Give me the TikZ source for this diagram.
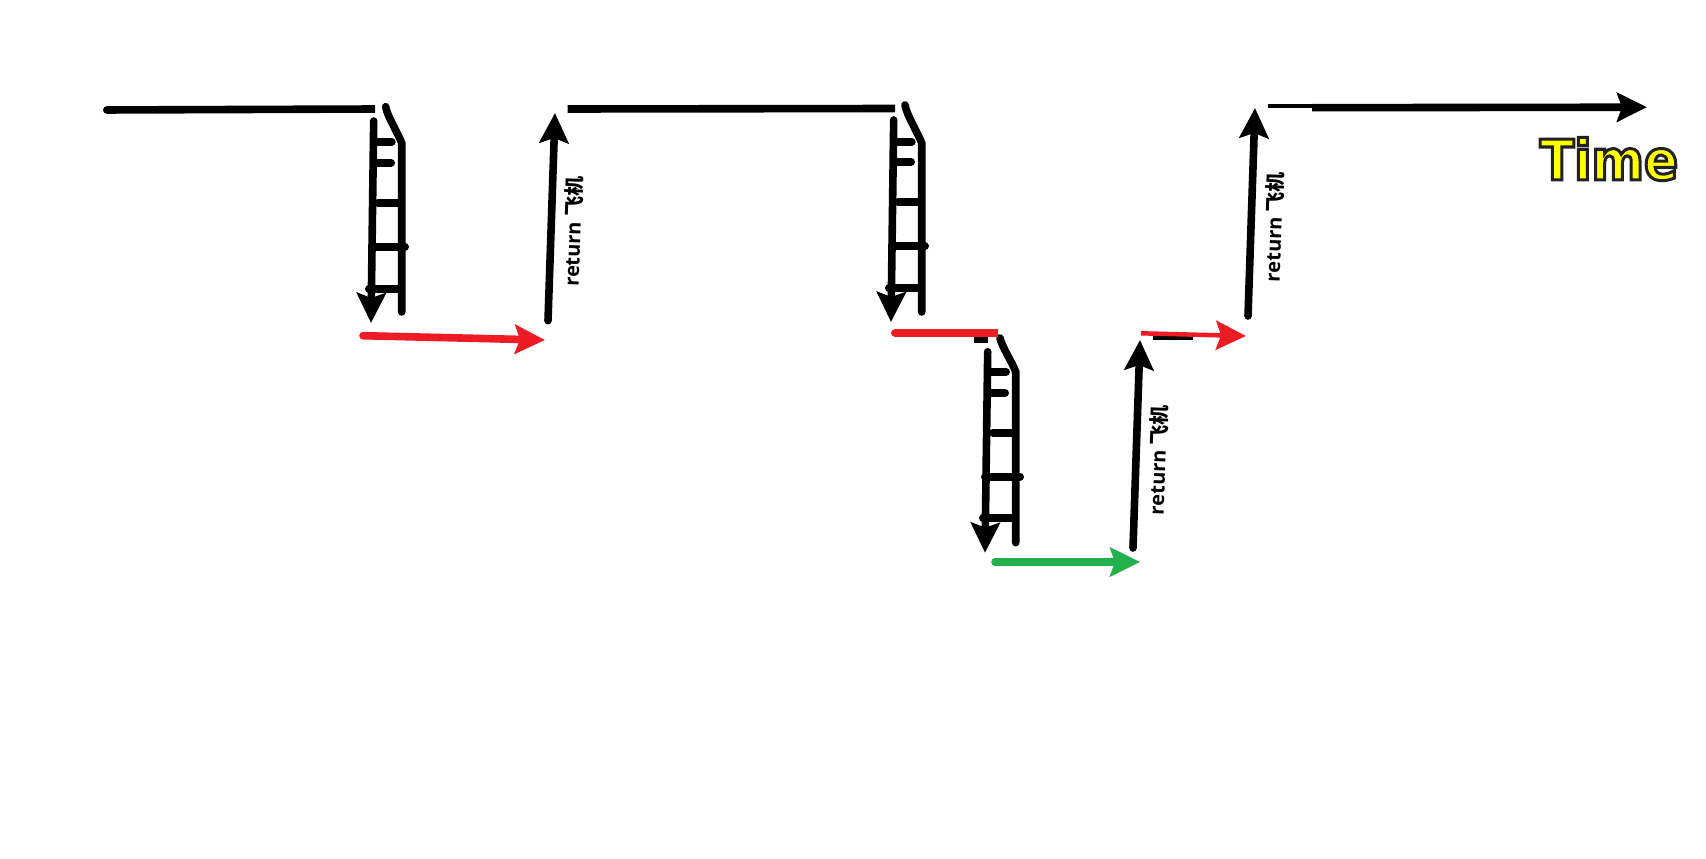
\documentclass[tikz,border=0pt]{standalone}
\usepackage{fontspec}
\setmainfont{Open Sans}
\newfontfamily\cjkfont{Noto Sans CJK SC}
\newfontfamily\timefont[FakeStretch=0.9]{DejaVu Sans}
\usetikzlibrary{arrows.meta}

\tikzset{
    line/.style={line width=7.6pt, line cap=round, black},
    flat/.style={line, line cap=butt},
    capped/.style={flat, {Round Cap[]}-},
    arrow/.style={line, -{Stealth[length=30pt, width=29pt, inset=5pt]}},
    rung/.style={line, line width=8pt},
    label/.style={font=\fontsize{20}{20}\selectfont\bfseries, rotate=88, inner sep=1pt},
}
\definecolor{delay}{RGB}{237,28,36}
\definecolor{fast}{RGB}{34,177,76}

\begin{document}
\begin{tikzpicture}[x=1pt, y=-1pt]
    \useasboundingbox (0,0) rectangle (1706,859);

    % define coordinates
    \coordinate (a0) at (103,110);
    \coordinate (a1) at (375,109);
    \coordinate (b0) at (567.7,109);
    \coordinate (b1) at (895,108.5);
    \coordinate (c0) at (1267.7,106);
    \coordinate (c1) at (1318,106);
    \coordinate (c2) at (1312,107.7);
    \coordinate (c3) at (1647,107.2);

    \coordinate (down1s) at (373.7,121);
    \coordinate (down1e) at (371,323);
    \coordinate (down2s) at (893.7,120);
    \coordinate (down2e) at (891,322);
    \coordinate (down3s) at (987.7,351.7);
    \coordinate (down3e) at (985,552.7);

    \coordinate (up1s) at (548,320.7);
    \coordinate (up1e) at (555,113);
    \coordinate (up2s) at (1133,548);
    \coordinate (up2e) at (1140,340);
    \coordinate (up3s) at (1248,316);
    \coordinate (up3e) at (1255,108);

    \coordinate (red1s) at (363,335.7);
    \coordinate (red1e) at (545,340);
    \coordinate (red2s) at (891,333);
    \coordinate (red2e) at (998,333);
    \coordinate (red3s) at (1141,333.3);
    \coordinate (red3e) at (1246,336);
    \coordinate (green1s) at (995,562);
    \coordinate (green1e) at (1140,562);

    % labels
    \node[label] (return1) at (573,231.5) {return \cjkfont 飞机};
    \node[label] (return2) at (1158,460) {return \cjkfont 飞机};
    \node[label] (return3) at (1274,227) {return \cjkfont 飞机};
    \node[inner sep=0pt, font=\fontsize{56}{56}\timefont\bfseries] (time) at (1609,159)
        {\special{pdf:literal 2 Tr 3 w 0.13 0.13 0.13 RG 1 1 0 rg}Time\special{pdf:literal 0 Tr 0 w 0 0 0 RG 0 0 0 rg}};

    % level lines
    \draw[capped] (a0) -- (a1);
    \draw[flat] (b0) -- (b1);
    \draw[flat, line width=4pt] (c0) -- (c1);
    \draw[flat] (974,339.5) -- (988,339.5);
    \draw[flat, line width=4pt] (1152.7,337.7) -- (1192.7,337.7);
    \draw[arrow, line cap=butt] (c2) -- (c3);

    % first ladder
    \draw[line] (385.7,106.7) .. controls (387,116) and (398,133) .. (401.7,143) -- (401.7,312);
    \draw[rung] (376,141.7) -- (391.7,141.7);
    \draw[rung] (376,162.7) -- (391,162.7);
    \draw[rung] (378,202.7) -- (401,202.7);
    \draw[rung] (372,246.7) -- (405,246.7);
    \draw[rung] (369,289) -- (401,289);
    \draw[arrow] (down1s) -- (down1e);

    % second ladder
    \draw[line] (905,105) .. controls (907,116) and (918,133) .. (921.7,143) -- (921.7,312);
    \draw[rung] (896,141.7) -- (911.7,141.7);
    \draw[rung] (896,161.7) -- (911,161.7);
    \draw[rung] (898,202) -- (921,202);
    \draw[rung] (892,246) -- (925,246);
    \draw[rung] (889,288) -- (921,288);
    \draw[arrow] (down2s) -- (down2e);

    % third ladder
    \draw[line] (1000,338) .. controls (1002,347) and (1012,362) .. (1015.7,371.7) -- (1015.7,542.7);
    \draw[rung] (990,371.7) -- (1006,371.7);
    \draw[rung] (990,392.7) -- (1005,392.7);
    \draw[rung] (993,432.7) -- (1015,432.7);
    \draw[rung] (985,476.7) -- (1020,476.7);
    \draw[rung] (983,518) -- (1015,518);
    \draw[arrow] (down3s) -- (down3e);

    % connect the coordinates
    \draw[arrow] (up1s) -- (up1e);
    \draw[arrow] (up2s) -- (up2e);
    \draw[arrow] (up3s) -- (up3e);

    \draw[arrow, delay] (red1s) -- (red1e);
    \draw[capped, delay] (red2s) -- (red2e);
    \draw[arrow, delay, line width=4.5pt, line cap=butt] (red3s) -- (red3e);
    \draw[arrow, fast] (green1s) -- (green1e);

\end{tikzpicture}
\end{document}
